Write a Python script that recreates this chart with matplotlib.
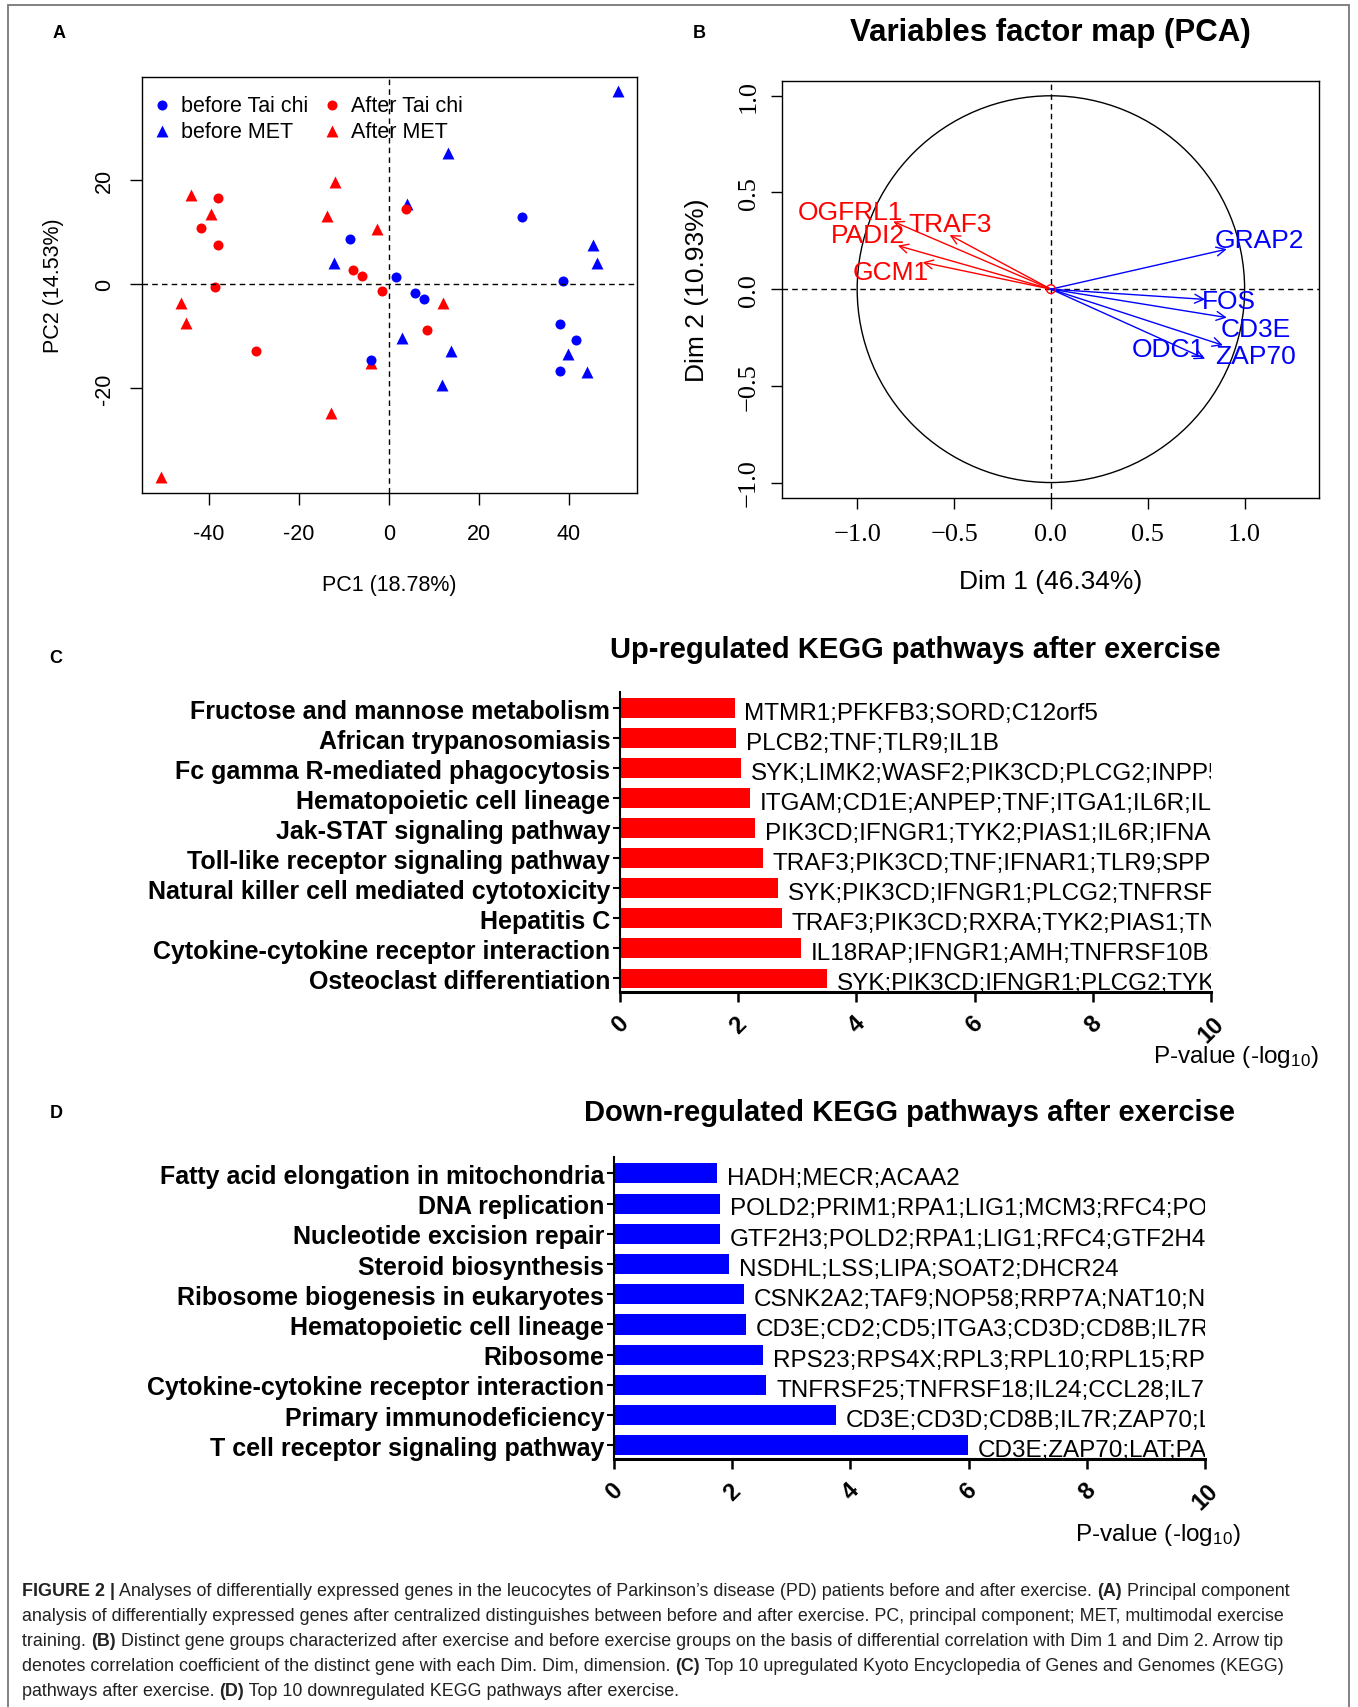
import matplotlib
matplotlib.use('Agg')
import matplotlib.pyplot as plt
from matplotlib.patches import Circle, Rectangle

plt.rcParams['font.family'] = ['Liberation Sans', 'DejaVu Sans']
plt.rcParams['mathtext.fontset'] = 'custom'
plt.rcParams['mathtext.rm'] = 'Liberation Sans'
plt.rcParams['mathtext.it'] = 'Liberation Sans:italic'
plt.rcParams['mathtext.bf'] = 'Liberation Sans:bold'

# ---------------- panel A : sample PCA ----------------
before_taichi_x = [29.7, -8.6, 1.5, 5.9, 7.9, 38.8, 38.1, 41.7, 38.1, -3.9]
before_taichi_y = [12.8, 8.7, 1.3, -1.7, -2.8, 0.5, -7.6, -10.8, -16.7, -14.6]
before_met_x = [50.9, 13.1, 4.1, -12.2, 45.4, 46.4, 2.8, 13.8, 11.9, 39.8, 44.1]
before_met_y = [37.0, 25.1, 15.4, 4.0, 7.5, 4.0, -10.4, -12.8, -19.3, -13.4, -16.8]
after_taichi_x = [-38.1, -41.8, -38.1, -38.8, -29.6, -7.9, -5.9, -1.6, 3.9, 8.5]
after_taichi_y = [16.5, 10.7, 7.4, -0.5, -12.9, 2.7, 1.5, -1.4, 14.3, -8.9]
after_met_x = [-44.0, -39.6, -11.9, -13.8, -2.7, -46.2, -45.2, 12.1, -4.0, -13.0, -50.7]
after_met_y = [17.1, 13.5, 19.6, 13.0, 10.5, -3.7, -7.4, -3.6, -15.1, -24.8, -36.9]
pca_xticks = [-40, -20, 0, 20, 40]
pca_xticklabels = ['-40', '-20', '0', '20', '40']
pca_yticks = [-20, 0, 20]
pca_yticklabels = ['-20', '0', '20']

# ---------------- panel B : variables factor map ----------------
var_genes = ['OGFRL1', 'TRAF3', 'PADI2', 'GCM1', 'GRAP2', 'FOS', 'CD3E', 'ZAP70', 'ODC1']
var_dim1 = [-0.814, -0.523, -0.79, -0.662, 0.908, 0.796, 0.908, 0.888, 0.796]
var_dim2 = [0.35, 0.28, 0.225, 0.139, 0.207, -0.053, -0.147, -0.29, -0.36]
var_up = [True, True, True, True, False, False, False, False, False]
var_ticks = [-1.0, -0.5, 0.0, 0.5, 1.0]
var_ticklabels = ['\u22121.0', '\u22120.5', '0.0', '0.5', '1.0']
# where each gene name sits relative to its arrow tip
label_shift = {'OGFRL1': (-0.22, 0.05), 'TRAF3': (0.0, 0.055), 'PADI2': (-0.156, 0.053),
               'GCM1': (-0.164, -0.049), 'GRAP2': (0.168, 0.049), 'FOS': (0.123, -0.008),
               'CD3E': (0.152, -0.06), 'ZAP70': (0.166, -0.054), 'ODC1': (-0.19, 0.049)}

# ---------------- panel C : up-regulated KEGG ----------------
up_paths = ['Fructose and mannose metabolism', 'African trypanosomiasis',
            'Fc gamma R-mediated phagocytosis', 'Hematopoietic cell lineage',
            'Jak-STAT signaling pathway', 'Toll-like receptor signaling pathway',
            'Natural killer cell mediated cytotoxicity', 'Hepatitis C',
            'Cytokine-cytokine receptor interaction', 'Osteoclast differentiation']
up_logp = [1.94, 1.96, 2.05, 2.20, 2.29, 2.42, 2.68, 2.74, 3.06, 3.50]
up_genes = ['MTMR1;PFKFB3;SORD;C12orf5', 'PLCB2;TNF;TLR9;IL1B',
            'SYK;LIMK2;WASF2;PIK3CD;PLCG2;INPP5D', 'ITGAM;CD1E;ANPEP;TNF;ITGA1;IL6R;IL1B',
            'PIK3CD;IFNGR1;TYK2;PIAS1;IL6R;IFNAR1', 'TRAF3;PIK3CD;TNF;IFNAR1;TLR9;SPP1',
            'SYK;PIK3CD;IFNGR1;PLCG2;TNFRSF10B', 'TRAF3;PIK3CD;RXRA;TYK2;PIAS1;TNF',
            'IL18RAP;IFNGR1;AMH;TNFRSF10B;TNF', 'SYK;PIK3CD;IFNGR1;PLCG2;TYK2']

# ---------------- panel D : down-regulated KEGG ----------------
down_paths = ['Fatty acid elongation in mitochondria', 'DNA replication',
              'Nucleotide excision repair', 'Steroid biosynthesis',
              'Ribosome biogenesis in eukaryotes', 'Hematopoietic cell lineage', 'Ribosome',
              'Cytokine-cytokine receptor interaction', 'Primary immunodeficiency',
              'T cell receptor signaling pathway']
down_logp = [1.74, 1.79, 1.80, 1.95, 2.20, 2.24, 2.52, 2.58, 3.75, 5.99]
down_genes = ['HADH;MECR;ACAA2', 'POLD2;PRIM1;RPA1;LIG1;MCM3;RFC4;POLE',
              'GTF2H3;POLD2;RPA1;LIG1;RFC4;GTF2H4;', 'NSDHL;LSS;LIPA;SOAT2;DHCR24',
              'CSNK2A2;TAF9;NOP58;RRP7A;NAT10;NOP2', 'CD3E;CD2;CD5;ITGA3;CD3D;CD8B;IL7R',
              'RPS23;RPS4X;RPL3;RPL10;RPL15;RPL', 'TNFRSF25;TNFRSF18;IL24;CCL28;IL7R',
              'CD3E;CD3D;CD8B;IL7R;ZAP70;LCK', 'CD3E;ZAP70;LAT;PAK']
kegg_ticks = [0, 2, 4, 6, 8, 10]
kegg_ticklabels = ['0', '2', '4', '6', '8', '10']

caption = [
    [('FIGURE 2 |', True), (' Analyses of differentially expressed genes in the leucocytes of Parkinson\u2019s disease (PD) patients before and after exercise. ', False),
     ('(A)', True), (' Principal component', False)],
    [('analysis of differentially expressed genes after centralized distinguishes between before and after exercise. PC, principal component; MET, multimodal exercise', False)],
    [('training. ', False), ('(B)', True), (' Distinct gene groups characterized after exercise and before exercise groups on the basis of differential correlation with Dim 1 and Dim 2. Arrow tip', False)],
    [('denotes correlation coefficient of the distinct gene with each Dim. Dim, dimension. ', False), ('(C)', True),
     (' Top 10 upregulated Kyoto Encyclopedia of Genes and Genomes (KEGG)', False)],
    [('pathways after exercise. ', False), ('(D)', True), (' Top 10 downregulated KEGG pathways after exercise.', False)],
]

W, H = 1358, 1708
fig = plt.figure(figsize=(W / 100, H / 100), dpi=100)


def px_axes(l, t, r, b):
    return fig.add_axes([l / W, 1 - b / H, (r - l) / W, (b - t) / H])


# outer frame
fig.add_artist(Rectangle((8 / W, -0.01), (1349 - 8) / W, 1.01 - 6 / H, transform=fig.transFigure,
                         fill=False, edgecolor='#777777', lw=1.3))

# ---------- A ----------
ax = px_axes(142.2, 77.9, 636.6, 494.3)
blue, red = '#0000FF', '#FF0000'
h2 = ax.scatter(before_met_x, before_met_y, marker='^', s=74, color=blue, lw=0)
h4 = ax.scatter(after_met_x, after_met_y, marker='^', s=74, color=red, lw=0)
h1 = ax.scatter(before_taichi_x, before_taichi_y, marker='o', s=52, color=blue, lw=0)
h3 = ax.scatter(after_taichi_x, after_taichi_y, marker='o', s=52, color=red, lw=0)
ax.axhline(0, color='black', lw=1, ls=(0, (4, 3)))
ax.axvline(0, color='black', lw=1, ls=(0, (4, 3)))
ax.set_xlim(-54.9, 55.1)
ax.set_ylim(-40.1, 39.7)
ax.set_xticks(pca_xticks)
ax.set_xticklabels(pca_xticklabels)
ax.set_yticks(pca_yticks)
ax.set_yticklabels(pca_yticklabels, rotation=90, va='center')
ax.tick_params(axis='both', labelsize=15.5, length=8.5, width=1)
ax.tick_params(axis='x', pad=13)
ax.tick_params(axis='y', pad=11)
for s in ax.spines.values():
    s.set_linewidth(1)
ax.set_xlabel('PC1 (18.78%)', fontsize=15.5, va='center')
ax.set_ylabel('PC2 (14.53%)', fontsize=15.5, va='center')
ax.xaxis.set_label_coords(0.5, -0.220)
ax.yaxis.set_label_coords(-0.180, 0.5)
ax.legend([h1, h2, h3, h4], ['before Tai chi', 'before MET', 'After Tai chi', 'After MET'],
          ncol=2, loc='upper left', bbox_to_anchor=(0, 0.978), borderaxespad=0, frameon=False,
          fontsize=15.5, handlelength=1.0, handletextpad=0.4, columnspacing=0.6,
          labelspacing=0.24, scatterpoints=1)
fig.text(59 / W, 1 - 34 / H, 'A', fontsize=13, fontweight='bold', ha='center', va='center')

# ---------- B ----------
ax = px_axes(782.2, 81.9, 1319.4, 499.4)
ax.add_patch(Circle((0, 0), 1, fill=False, edgecolor='black', lw=1))
ax.axhline(0, color='black', lw=1, ls=(0, (4, 3)))
ax.axvline(0, color='black', lw=1, ls=(0, (4, 3)))
for g, x, y, up in zip(var_genes, var_dim1, var_dim2, var_up):
    c = red if up else blue
    ax.annotate('', xy=(x, y), xytext=(0, 0),
                arrowprops=dict(arrowstyle='->', color=c, lw=1, shrinkA=0, shrinkB=0, mutation_scale=16))
    dx, dy = label_shift[g]
    ax.text(x + dx, y + dy, g, color=c, fontsize=19, ha='center', va='center')
ax.scatter([0], [0], s=40, facecolor='none', edgecolor=red, lw=1, zorder=5)
ax.set_xlim(-1.387, 1.386)
ax.set_ylim(-1.082, 1.077)
ax.set_xticks(var_ticks)
ax.set_xticklabels(var_ticklabels, family=['Liberation Serif', 'DejaVu Serif'])
ax.set_yticks(var_ticks)
ax.set_yticklabels(var_ticklabels, family=['Liberation Serif', 'DejaVu Serif'], rotation=90, va='center')
ax.tick_params(axis='both', labelsize=19, length=8, width=1)
ax.tick_params(axis='x', pad=10)
ax.tick_params(axis='y', pad=8)
for s in ax.spines.values():
    s.set_linewidth(1)
ax.set_xlabel('Dim 1 (46.34%)', fontsize=19, va='center')
ax.set_ylabel('Dim 2 (10.93%)', fontsize=19, va='center')
ax.xaxis.set_label_coords(0.5, -0.198)
ax.yaxis.set_label_coords(-0.159, 0.5)
ax.text(0.5, 1.117, 'Variables factor map (PCA)', transform=ax.transAxes, ha='center', va='center',
        fontsize=22.5, fontweight='bold')
fig.text(699 / W, 1 - 33 / H, 'B', fontsize=13, fontweight='bold', ha='center', va='center')


# ---------- C & D ----------
def kegg_panel(ax, names, values, genes, color, title, title_y, xlab_x, xlab_y):
    pos = list(range(len(names)))
    ax.barh(pos, values, height=0.665, color=color, lw=0)
    for i, (v, g) in enumerate(zip(values, genes)):
        ax.annotate(g, (v, i), xytext=(7, -3.5), textcoords='offset points', ha='left', va='center',
                    fontsize=17.5, clip_on=True)
    ax.set_xlim(0, 10)
    ax.set_ylim(9.45, -0.54)
    ax.set_yticks(pos)
    ax.set_yticklabels(names, fontsize=18, fontweight='bold')
    ax.set_xticks(kegg_ticks)
    ax.set_xticklabels(kegg_ticklabels, fontsize=17, fontweight='bold', rotation=45, ha='center', va='top')
    ax.tick_params(axis='y', length=5, width=1.5, pad=2)
    ax.tick_params(axis='x', length=7, width=1.8, pad=7)
    ax.spines['top'].set_visible(False)
    ax.spines['right'].set_visible(False)
    ax.spines['left'].set_linewidth(1.5)
    ax.spines['bottom'].set_linewidth(2.2)
    ax.text(0.5, title_y, title, transform=ax.transAxes, ha='center', va='center',
            fontsize=21, fontweight='bold')
    ax.text(xlab_x, xlab_y, 'P-value (-log$_{10}$)', transform=ax.transAxes, ha='center', va='center',
            fontsize=17.5)


ax = px_axes(620, 693, 1211, 993)
kegg_panel(ax, up_paths, up_logp, up_genes, red, 'Up-regulated KEGG pathways after exercise',
           1.143, 1.042, -0.213)
fig.text(56 / W, 1 - 659 / H, 'C', fontsize=13, fontweight='bold', ha='center', va='center')

ax = px_axes(614, 1158, 1205, 1460)
kegg_panel(ax, down_paths, down_logp, down_genes, blue, 'Down-regulated KEGG pathways after exercise',
           1.149, 0.920, -0.248)
fig.text(56 / W, 1 - 1113 / H, 'D', fontsize=13, fontweight='bold', ha='center', va='center')

# ---------- caption ----------
renderer = fig.canvas.get_renderer()
cap_family = ['Liberation Sans Narrow', 'Liberation Sans', 'DejaVu Sans']


def line_width(parts, size):
    w = 0
    for txt, bold in parts:
        t = fig.text(0, 0, txt, fontsize=size, fontweight='bold' if bold else 'normal', family=cap_family)
        w += t.get_window_extent(renderer=renderer).width
        t.remove()
    return w


cap_size = 10 * 1268 / line_width(caption[0], 10)
line_y = [1592, 1617, 1642, 1667, 1692]
for parts, yy in zip(caption, line_y):
    x = 22
    for txt, bold in parts:
        t = fig.text(x / W, 1 - yy / H, txt, fontsize=cap_size, fontweight='bold' if bold else 'normal',
                     family=cap_family, color='#222222', ha='left', va='center')
        x += t.get_window_extent(renderer=renderer).width

fig.savefig('out.png', dpi=100)
